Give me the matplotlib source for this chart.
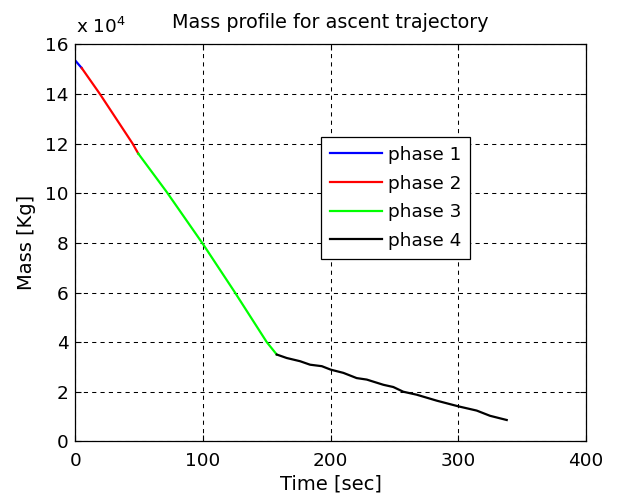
import matplotlib
matplotlib.use('Agg')
import matplotlib.pyplot as plt
import numpy as np

######
# values (time in sec, mass in kg)
t1 = [0.0, 5.0]
m1 = [15.35e4, 15.05e4]
t2 = [5.0, 19.3, 44.9, 49.3]
m2 = [15.05e4, 14.0e4, 12.0e4, 11.6e4]
t3 = [49.3, 71.6, 100.0, 124.5, 149.9, 157.7]
m3 = [11.6e4, 10.05e4, 7.95e4, 6.04e4, 4.0e4, 3.5e4]
t4 = [157.7, 165.5, 176.0, 183.8, 193.0, 200.0, 209.9, 220.3, 228.2, 241.2,
      249.0, 256.8, 267.3, 283.0, 300.0, 314.3, 324.7, 337.8]
m4 = [3.5e4, 3.36e4, 3.23e4, 3.09e4, 3.03e4, 2.89e4, 2.76e4, 2.55e4, 2.49e4, 2.28e4,
      2.19e4, 2.0e4, 1.88e4, 1.64e4, 1.41e4, 1.24e4, 1.03e4, 0.86e4]
labels = ['phase 1', 'phase 2', 'phase 3', 'phase 4']
xticks = [0, 100, 200, 300, 400]
yticks = [0, 2, 4, 6, 8, 10, 12, 14, 16]
######

plt.rcParams['font.family'] = ['DejaVu Sans']
fs = 13.3

fig = plt.figure(figsize=(6.2, 4.97), dpi=100)
ax = fig.add_axes([0.1215, 0.112, 0.8239, 0.7985])

lw = 1.6
ax.plot(t1, np.array(m1) / 1e4, color='#0000ff', lw=lw, label=labels[0])
ax.plot(t2, np.array(m2) / 1e4, color='#ff0000', lw=lw, label=labels[1])
ax.plot(t3, np.array(m3) / 1e4, color='#00ff00', lw=lw, label=labels[2])
ax.plot(t4, np.array(m4) / 1e4, color='k', lw=lw, label=labels[3])

ax.set_xlim(0, 400)
ax.set_ylim(0, 16)
ax.set_xticks(xticks)
ax.set_yticks(yticks)
ax.tick_params(direction='in', length=4, width=0.8, top=True, right=True,
               labelsize=fs, colors='k')
ax.tick_params(axis='x', pad=8)
ax.tick_params(axis='y', pad=5)
ax.grid(True, color='k', linestyle=(0, (4, 4)), linewidth=0.75)
for s in ax.spines.values():
    s.set_linewidth(0.9)

ax.set_title('Mass profile for ascent trajectory', fontsize=13.8, pad=12)
ax.set_xlabel('Time [sec]', fontsize=14.0, labelpad=3)
ax.set_ylabel('Mass [Kg]', fontsize=14.0, labelpad=6)
ax.text(0.002, 1.018, r'x 10$^4$', transform=ax.transAxes, fontsize=fs,
        ha='left', va='bottom')

leg = ax.legend(loc='upper left', bbox_to_anchor=(0.481, 0.768), fontsize=fs,
                fancybox=False, framealpha=1, edgecolor='k', handlelength=2.8,
                handletextpad=0.3, labelspacing=0.58, borderpad=0.5,
                borderaxespad=0)
leg.get_frame().set_linewidth(0.9)

plt.savefig('out.png', dpi=100)
